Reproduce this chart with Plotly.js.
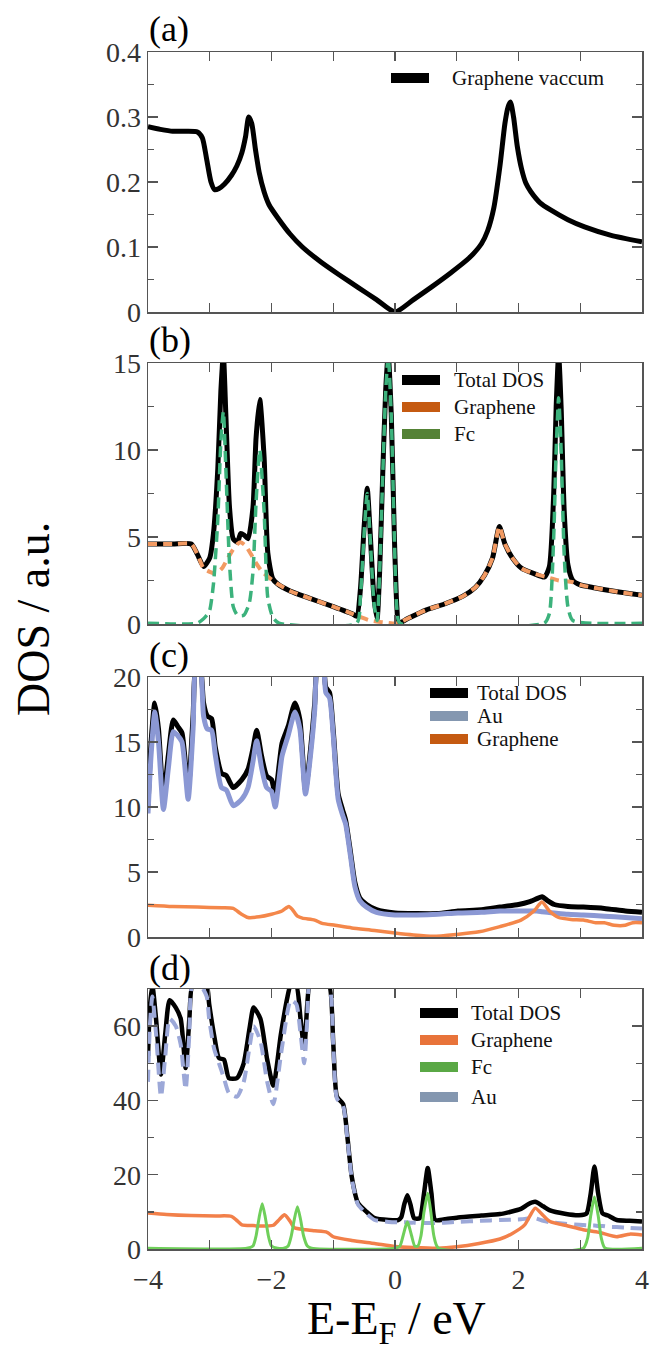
<!DOCTYPE html>
<html><head><meta charset="utf-8">
<script src="https://cdn.plot.ly/plotly-3.0.1.min.js"></script>
<style>html,body{margin:0;padding:0;background:#fff}#chart{width:654px;height:1353px}</style>
</head><body><div id="chart"></div>
<script>
// ---------- DATA ----------
// (a) Graphene vacuum
const xa = [-4.0,-3.8,-3.6,-3.4,-3.2,-3.12,-3.05,-2.98,-2.92,-2.85,-2.76,-2.65,-2.56,-2.48,-2.42,-2.37,-2.32,-2.26,-2.2,-2.12,-2.04,-1.9,-1.7,-1.5,-1.2,-0.9,-0.6,-0.3,0.0,0.3,0.6,0.9,1.2,1.4,1.5,1.6,1.7,1.78,1.83,1.87,1.92,1.98,2.05,2.12,2.2,2.35,2.52,2.8,3.07,3.5,4.0];
const ya = [0.285,0.281,0.278,0.278,0.277,0.268,0.235,0.2,0.188,0.19,0.197,0.21,0.225,0.245,0.27,0.30,0.29,0.25,0.215,0.185,0.165,0.145,0.12,0.1,0.077,0.057,0.038,0.019,0.0,0.019,0.039,0.06,0.083,0.105,0.125,0.16,0.225,0.29,0.315,0.323,0.3,0.255,0.22,0.198,0.185,0.168,0.157,0.142,0.131,0.118,0.108];

// (b) Total DOS
const xbTotal = [-4.0,-3.6,-3.3,-3.2,-3.1,-3.0,-2.94,-2.87,-2.82,-2.78,-2.74,-2.68,-2.62,-2.55,-2.5,-2.44,-2.38,-2.3,-2.25,-2.19,-2.12,-2.06,-1.98,-1.9,-1.7,-1.4,-1.0,-0.7,-0.62,-0.56,-0.5,-0.45,-0.4,-0.34,-0.29,-0.25,-0.2,-0.15,-0.11,-0.06,-0.01,0.03,0.06,0.2,0.5,0.8,1.1,1.3,1.45,1.58,1.69,1.78,1.9,2.05,2.25,2.42,2.5,2.57,2.61,2.65,2.69,2.74,2.8,2.88,3.0,3.2,3.6,4.0];
const ybTotal = [4.6,4.6,4.6,4.0,3.3,3.8,5.2,8.9,13.4,15.5,12.1,6.7,4.9,4.7,5.2,5.1,4.9,6.7,10.7,12.9,9.6,4.1,2.6,2.3,1.9,1.5,1.0,0.6,0.45,2.0,5.6,7.8,5.1,1.5,0.3,2.9,8.5,13.5,15.5,12,5,1,0.05,0.3,0.8,1.15,1.6,2.1,2.8,3.8,5.6,4.6,3.8,3.2,2.9,2.7,3.3,7.5,12.5,15.5,12.5,6.5,3.4,2.5,2.25,2.1,1.85,1.65];
// (b) Graphene
const xbGraph = [-4.0,-3.6,-3.3,-3.2,-3.1,-3.0,-2.9,-2.8,-2.72,-2.62,-2.55,-2.5,-2.42,-2.33,-2.25,-2.15,-2.05,-1.98,-1.9,-1.7,-1.4,-1.0,-0.7,-0.56,-0.4,-0.2,0.0,0.06,0.2,0.5,0.8,1.1,1.3,1.45,1.58,1.69,1.78,1.9,2.05,2.25,2.45,2.65,2.88,3.0,3.2,3.6,4.0];
const ybGraph = [4.6,4.6,4.6,4.0,3.2,3.0,2.9,3.2,3.7,4.3,4.6,4.7,4.5,4.0,3.5,3.0,2.7,2.5,2.3,1.9,1.5,1.0,0.6,0.4,0.2,0.1,0.03,0.05,0.3,0.8,1.15,1.6,2.1,2.8,3.8,5.6,4.6,3.8,3.2,2.9,2.7,2.5,2.4,2.25,2.1,1.85,1.65];
// (b) Fc
const xbFc = [-4.0,-3.2,-3.1,-3.05,-3.0,-2.94,-2.87,-2.82,-2.78,-2.74,-2.68,-2.62,-2.55,-2.45,-2.36,-2.3,-2.25,-2.19,-2.12,-2.06,-1.98,-1.88,-0.62,-0.56,-0.5,-0.45,-0.4,-0.34,-0.29,-0.25,-0.2,-0.15,-0.11,-0.06,-0.01,0.03,0.08,2.42,2.5,2.57,2.61,2.65,2.69,2.74,2.8,2.88,4.0];
const ybFc = [0.05,0.05,0.3,0.5,0.8,2.3,6,10.5,12.2,9,3.5,1.0,0.5,0.5,1.2,3,7,10,6.5,1.5,0.4,0.05,0.05,1.6,5.2,7.5,4.8,1.2,0.2,2.8,8.4,13.4,15.4,11.9,4.9,0.9,0.05,0.05,0.6,5,10,13,10,4,1.0,0.2,0.05];

// (c) Total DOS and Au share one energy grid
const xc = [-4.0,-3.95,-3.89,-3.83,-3.75,-3.67,-3.59,-3.52,-3.45,-3.35,-3.27,-3.22,-3.16,-3.1,-3.04,-2.97,-2.91,-2.81,-2.73,-2.62,-2.48,-2.38,-2.3,-2.24,-2.16,-2.08,-2.0,-1.94,-1.83,-1.73,-1.62,-1.54,-1.45,-1.35,-1.3,-1.25,-1.17,-1.12,-1.06,-1.0,-0.92,-0.85,-0.8,-0.72,-0.65,-0.57,-0.46,-0.3,0.0,0.35,0.69,1.02,1.4,1.7,2.0,2.17,2.3,2.38,2.47,2.58,2.8,3.05,3.39,3.73,4.0];
const ycTotal = [10,15,18,16,10.8,14,16.7,16.2,15.7,11.3,17,21,21,18,17,16.8,14.6,12.6,12.4,11.5,12.1,12.9,14.5,15.9,13.9,12.4,12.1,11.0,14.9,16.2,18.0,16.7,11.3,15.3,18,21,21,19.2,18.8,15.9,11,9.8,9.0,6.5,4.2,3.0,2.5,2.1,1.85,1.8,1.8,2.0,2.1,2.3,2.5,2.7,2.95,3.1,2.8,2.5,2.35,2.3,2.2,2.0,1.9];
const ycAu = [9.5,14,17.3,15,9.8,13,15.8,15.5,15,10.6,16,21,21,17,16,15.9,14,11.5,11.3,10.1,10.6,11.5,13.5,15.1,13,11.5,11.2,10.0,13.9,15.5,17.3,16,11.0,14.8,17.5,21,21,18.8,18.4,15.5,10.6,9.4,8.7,6.2,3.9,2.8,2.3,1.9,1.7,1.7,1.75,1.85,1.9,2.0,2.0,2.0,2.0,1.95,1.9,1.85,1.75,1.7,1.6,1.5,1.4];
const xcGraph = [-4.0,-3.6,-3.2,-2.8,-2.62,-2.5,-2.38,-2.2,-2.0,-1.83,-1.72,-1.66,-1.58,-1.5,-1.3,-1.18,-0.97,-0.7,-0.33,0.0,0.3,0.62,1.0,1.36,1.7,2.04,2.25,2.38,2.5,2.65,2.85,3.05,3.25,3.39,3.55,3.73,3.85,4.0];
const ycGraph = [2.45,2.35,2.3,2.25,2.2,1.8,1.5,1.55,1.75,2.0,2.35,2.1,1.6,1.45,1.3,1.05,0.9,0.7,0.5,0.3,0.15,0.05,0.2,0.4,0.8,1.3,2.0,2.7,2.0,1.5,1.35,1.3,1.1,1.1,0.9,0.9,1.1,1.1];

// (d) Total DOS and Au share one energy grid
const xd = [-4.0,-3.97,-3.93,-3.87,-3.79,-3.72,-3.65,-3.55,-3.47,-3.39,-3.33,-3.28,-3.15,-3.05,-3.01,-2.93,-2.85,-2.77,-2.69,-2.56,-2.45,-2.35,-2.29,-2.18,-2.07,-1.97,-1.85,-1.74,-1.69,-1.6,-1.53,-1.47,-1.42,-1.38,-1.2,-1.07,-1.0,-0.94,-0.84,-0.77,-0.7,-0.6,-0.46,-0.33,-0.1,0.05,0.1,0.15,0.2,0.25,0.31,0.4,0.47,0.53,0.59,0.65,0.8,1.02,1.4,1.7,2.04,2.15,2.27,2.4,2.51,2.75,2.98,3.1,3.17,3.23,3.29,3.36,3.45,3.59,3.8,4.0];
const ydTotal = [52,65,71,62,47,58,67,65,62,48.7,62,71,71,71,66,57.6,51.4,51,46,46,50,60,65,62,51,44,57.6,68,71,71,62,54,66,71,71,71,55.4,41,39,30,19.4,12.4,10,8.3,7.8,7.8,8.5,12,14.5,12,8.3,8.3,15,21.8,15,7.8,8.0,8.5,9.0,9.4,10.8,12,12.7,11.5,10.4,9.5,9.1,9.5,15,22.2,15,9.6,9.0,7.8,7.6,7.4];
const ydAu = [45,60,68,58,41,52,62,60,55,43,58,71,71,68,62,54,50,46,42,41,45,55,60,56,45,39,52,64,67,66,58,50,62,71,71,71,55,40.5,38.5,29.5,19,12,9.5,7.8,7.3,7.2,7.2,7.2,7.2,7.1,7.1,7.0,7.0,7.0,7.0,7.0,7.1,7.3,7.6,7.8,8.0,8.2,8.3,7.6,7.2,6.8,6.5,6.4,6.3,6.3,6.2,6.2,6.0,5.9,5.7,5.5];
const xdGraph = [-4.0,-3.7,-3.3,-2.9,-2.65,-2.55,-2.48,-2.3,-2.1,-1.97,-1.87,-1.79,-1.7,-1.63,-1.45,-1.3,-1.1,-1.0,-0.7,-0.33,0.0,0.3,0.69,1.0,1.36,1.7,1.9,2.1,2.27,2.4,2.51,2.8,3.05,3.3,3.59,3.8,4.0];
const ydGraph = [9.7,9.3,9.0,8.9,8.8,7.5,6.5,6.3,6.2,6.4,8.0,9.2,7.5,5.7,5.2,4.9,4.5,3.3,2.3,1.5,0.7,0.4,0.2,0.6,1.5,2.7,4.2,6.5,11,9.0,7.4,6.2,5.2,4.5,3.3,4.0,3.8];
const xdFc = [-4.0,-2.4,-2.3,-2.25,-2.2,-2.15,-2.1,-2.05,-2.0,-1.9,-1.8,-1.73,-1.68,-1.63,-1.58,-1.53,-1.48,-1.42,-1.35,0.0,0.08,0.13,0.17,0.2,0.23,0.27,0.32,0.37,0.42,0.47,0.53,0.58,0.63,0.7,3.05,3.12,3.17,3.23,3.29,3.34,3.4,4.0];
const ydFc = [0.2,0.2,0.8,3.5,8.5,12.2,8.5,3.5,0.8,0.2,0.2,0.8,3.5,8,11.4,8,3.5,0.8,0.2,0.2,0.8,3.5,6,7.3,6,3.5,0.8,0.8,3.5,10,15,10,3.5,0.3,0.2,3,9,14,9,3,0.3,0.2];

// labels
const panelLabels = ['(a)','(b)','(c)','(d)'];
const legendA = ['Graphene vaccum'];
const legendB = ['Total DOS','Graphene','Fc'];
const legendC = ['Total DOS','Au','Graphene'];
const legendD = ['Total DOS','Graphene','Fc','Au'];

// ---------- LAYOUT HELPERS ----------
const FONT = '"Liberation Serif", "Times New Roman", serif';
const L=148, R=642, T=52, B=1249;
const fx = px => (px-L)/(R-L);
const fy = py => (B-py)/(B-T);
const AX = '#555';

function xax(anchor, labels){
  return {anchor:anchor, domain:[0,1], range:[-4,4], showline:true, linecolor:AX, linewidth:1.5,
    mirror:'ticks', ticks:'inside', ticklen:9, tickwidth:1.3, tickcolor:AX, tick0:-4, dtick:2,
    minor:{ticks:'inside', ticklen:9, dtick:1, tickcolor:AX, tickwidth:1.3},
    showticklabels:labels, ticklabelstandoff:5, showgrid:false, zeroline:false,
    tickfont:{family:FONT,size:28,color:'#333'}};
}
function yax(anchor, dom, range, dtick, minor){
  return {anchor:anchor, domain:dom, range:range, showline:true, linecolor:AX, linewidth:1.5,
    mirror:'ticks', ticks:'inside', ticklen:10, tickwidth:1.3, tickcolor:AX, dtick:dtick, tick0:0,
    minor:{ticks:'inside', ticklen:6, dtick:minor, tickcolor:AX, tickwidth:1.3},
    showgrid:false, zeroline:false, tickfont:{family:FONT,size:28,color:'#333'}};
}

const sp = {shape:'spline', smoothing:0.6};
const traces = [
  {x:xa, y:ya, xaxis:'x', yaxis:'y', mode:'lines', line:Object.assign({color:'#000', width:5}, sp)},
  {x:xbTotal, y:ybTotal, xaxis:'x2', yaxis:'y2', mode:'lines', line:Object.assign({color:'#000', width:5}, sp)},
  {x:xbGraph, y:ybGraph, xaxis:'x2', yaxis:'y2', mode:'lines', line:Object.assign({color:'#f29a62', width:4, dash:'9px,6px'}, sp)},
  {x:xbFc, y:ybFc, xaxis:'x2', yaxis:'y2', mode:'lines', line:Object.assign({color:'#3cb27c', width:3.5, dash:'11px,6px'}, sp)},
  {x:xc, y:ycTotal, xaxis:'x3', yaxis:'y3', mode:'lines', line:Object.assign({color:'#000', width:5}, sp)},
  {x:xc, y:ycAu, xaxis:'x3', yaxis:'y3', mode:'lines', line:Object.assign({color:'#8b98d4', width:5}, sp)},
  {x:xcGraph, y:ycGraph, xaxis:'x3', yaxis:'y3', mode:'lines', line:Object.assign({color:'#f4874a', width:3.5}, sp)},
  {x:xd, y:ydTotal, xaxis:'x4', yaxis:'y4', mode:'lines', line:Object.assign({color:'#000', width:4.5}, sp)},
  {x:xd, y:ydAu, xaxis:'x4', yaxis:'y4', mode:'lines', line:Object.assign({color:'#9ca8d8', width:4, dash:'12px,7px'}, sp)},
  {x:xdGraph, y:ydGraph, xaxis:'x4', yaxis:'y4', mode:'lines', line:Object.assign({color:'#f2804a', width:3.5}, sp)},
  {x:xdFc, y:ydFc, xaxis:'x4', yaxis:'y4', mode:'lines', line:Object.assign({color:'#6fcf5a', width:3}, sp)}
];

const shapes = [], annotations = [];
function legend(names, colors, swL, rowsY, textX){
  names.forEach((n,i)=>{
    shapes.push({type:'rect', xref:'paper', yref:'paper', x0:fx(swL), x1:fx(swL+38),
      y0:fy(rowsY[i]+5), y1:fy(rowsY[i]-5), fillcolor:colors[i], line:{width:0}});
    annotations.push({xref:'paper', yref:'paper', x:fx(textX), y:fy(rowsY[i]), text:n, showarrow:false,
      xanchor:'left', yanchor:'middle', font:{family:FONT, size:21, color:'#111'}});
  });
}
legend(legendA, ['#000'], 391, [78], 450);
legend(legendB, ['#000','#c55a11','#548235'], 402, [380,407,434], 452);
legend(legendC, ['#000','#8497b0','#c55a11'], 430, [693,716,739], 475);
legend(legendD, ['#000','#e8733a','#5aa845','#8497b0'], 420, [1013,1040,1067,1097], 469);

const labelY = [29, 340, 655, 968];
panelLabels.forEach((t,i)=>annotations.push({xref:'paper', yref:'paper', x:fx(147), y:fy(labelY[i]), text:t,
  showarrow:false, xanchor:'left', yanchor:'middle', font:{family:FONT, size:36, color:'#000'}}));
annotations.push({xref:'paper', yref:'paper', x:fx(33), y:fy(619), text:'DOS / a.u.', textangle:-90,
  showarrow:false, xanchor:'center', yanchor:'middle', font:{family:FONT, size:46, color:'#000'}});
annotations.push({xref:'paper', yref:'paper', x:fx(396), y:fy(1322), text:'E-E<sub>F</sub> / eV',
  showarrow:false, xanchor:'center', yanchor:'middle', font:{family:FONT, size:46, color:'#000'}});

const layout = {
  width:654, height:1353, margin:{l:L, r:654-R, t:T, b:1353-B},
  paper_bgcolor:'#fff', plot_bgcolor:'#fff', showlegend:false,
  xaxis: xax('y', false),
  xaxis2: xax('y2', false),
  xaxis3: xax('y3', false),
  xaxis4: xax('y4', true),
  yaxis: yax('x', [fy(312), fy(52)], [0,0.4], 0.1, 0.05),
  yaxis2: yax('x2', [fy(624), fy(363)], [0,15], 5, 2.5),
  yaxis3: yax('x3', [fy(937), fy(677)], [0,20], 5, 2.5),
  yaxis4: yax('x4', [fy(1249), fy(989)], [0,70], 20, 10),
  shapes: shapes, annotations: annotations
};
Plotly.newPlot('chart', traces, layout, {staticPlot:true});
</script></body></html>
